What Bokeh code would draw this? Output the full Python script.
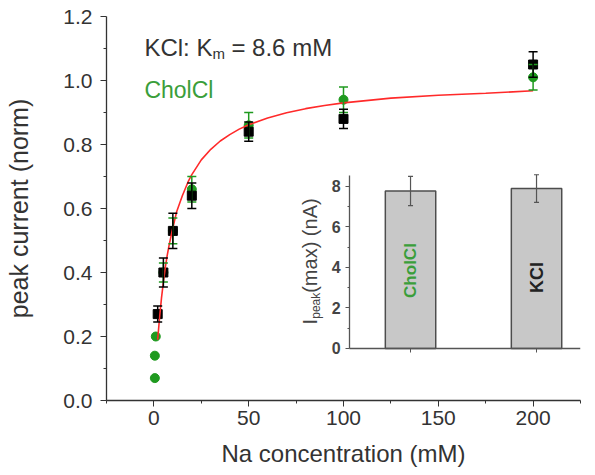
import math
from bokeh.plotting import figure
from bokeh.models import (ColumnDataSource, Whisker, TeeHead, FixedTicker, Label,
                          Range1d, LinearAxis)
from bokeh.embed import file_html
from bokeh.resources import INLINE

# ---------------- data ----------------
kcl_x = [2, 5, 10, 20, 50, 100, 200]
kcl_y = [0.27, 0.40, 0.53, 0.64, 0.84, 0.88, 1.05]
kcl_err = [0.025, 0.045, 0.055, 0.04, 0.03, 0.03, 0.04]

chol_x = [0.5, 0.5, 1, 5, 10, 20, 50, 100, 200]
chol_y = [0.07, 0.14, 0.20, 0.40, 0.53, 0.66, 0.86, 0.94, 1.01]
chol_err = [0, 0, 0, 0.03, 0.04, 0.04, 0.04, 0.04, 0.04]

fit_x = [2, 3, 4, 5, 6, 7, 8, 10, 12, 15, 18, 20, 25, 30, 35, 40, 45, 50, 60, 70,
         80, 90, 100, 125, 150, 175, 200]
fit_y = [0.19, 0.26, 0.32, 0.37, 0.415, 0.453, 0.485, 0.54, 0.59, 0.64, 0.683, 0.706,
         0.752, 0.785, 0.811, 0.831, 0.848, 0.862, 0.883, 0.899, 0.912, 0.922, 0.93,
         0.945, 0.954, 0.96, 0.968]

x_ticks = [0, 50, 100, 150, 200]
x_minor = [-25, 25, 75, 125, 175, 225]
y_ticks = [0.0, 0.2, 0.4, 0.6, 0.8, 1.0, 1.2]
y_tick_labels = ["0.0", "0.2", "0.4", "0.6", "0.8", "1.0", "1.2"]
y_minor = [0.1, 0.3, 0.5, 0.7, 0.9, 1.1]

inset_cats = ["CholCl", "KCl"]
inset_vals = [7.78, 7.9]
inset_err = [0.72, 0.68]
inset_y_ticks = [0, 2, 4, 6, 8]
inset_y_minor = [1, 3, 5, 7]

FONT = "Liberation Sans"
GREEN_M = "#1f9a1f"
GREEN_T = "#3a9e3a"
DARK = "#333333"
IGRAY = "#555555"

# ---------------- main plot ----------------
p = figure(width=592, height=474, x_range=Range1d(-25, 225), y_range=Range1d(0, 1.2),
           output_backend="svg", toolbar_location=None,
           min_border_left=106, min_border_right=12, min_border_top=16, min_border_bottom=74,
           outline_line_color=None, background_fill_color="white", border_fill_color="white")
p.grid.visible = False

p.xaxis.ticker = FixedTicker(ticks=x_ticks, minor_ticks=x_minor)
p.yaxis.ticker = FixedTicker(ticks=y_ticks, minor_ticks=y_minor)
p.yaxis.major_label_overrides = {t: l for t, l in zip(y_ticks, y_tick_labels)}
p.xaxis.axis_label = "Na concentration (mM)"
p.yaxis.axis_label = "peak current (norm)"
for ax in (p.xaxis[0], p.yaxis[0]):
    ax.axis_line_color = DARK
    ax.axis_line_width = 1.3
    ax.major_tick_line_color = DARK
    ax.minor_tick_line_color = DARK
    ax.major_tick_out = 6
    ax.major_tick_in = 0
    ax.minor_tick_out = 3
    ax.minor_tick_in = 0
    ax.major_label_text_font = FONT
    ax.major_label_text_font_size = "21px"
    ax.major_label_text_color = DARK
    ax.axis_label_text_font = FONT
    ax.axis_label_text_font_style = "normal"
    ax.axis_label_text_color = DARK
p.xaxis.major_label_standoff = 4
p.xaxis.axis_label_standoff = 12
p.xaxis.axis_label_text_font_size = "24px"
p.yaxis.major_label_standoff = 8
p.yaxis.axis_label_standoff = 27
p.yaxis.axis_label_text_font_size = "25px"

# error bars
ksrc = ColumnDataSource(dict(x=kcl_x, lo=[y - e for y, e in zip(kcl_y, kcl_err)],
                             hi=[y + e for y, e in zip(kcl_y, kcl_err)]))
cx = [x for x, e in zip(chol_x, chol_err) if e > 0]
cy = [y for y, e in zip(chol_y, chol_err) if e > 0]
ce = [e for e in chol_err if e > 0]
csrc = ColumnDataSource(dict(x=cx, lo=[y - e for y, e in zip(cy, ce)],
                             hi=[y + e for y, e in zip(cy, ce)]))
p.add_layout(Whisker(source=csrc, base="x", lower="lo", upper="hi", dimension="height",
                     line_color=GREEN_M, line_width=1.5, level="glyph",
                     upper_head=TeeHead(size=9, line_color=GREEN_M, line_width=1.5),
                     lower_head=TeeHead(size=9, line_color=GREEN_M, line_width=1.5)))
p.add_layout(Whisker(source=ksrc, base="x", lower="lo", upper="hi", dimension="height",
                     line_color="black", line_width=1.5, level="glyph",
                     upper_head=TeeHead(size=9, line_color="black", line_width=1.5),
                     lower_head=TeeHead(size=9, line_color="black", line_width=1.5)))

p.scatter(chol_x, chol_y, marker="circle", size=9, fill_color=GREEN_M, line_color=GREEN_M)
p.scatter(kcl_x, kcl_y, marker="square", size=9, fill_color="black", line_color="black")
p.line(fit_x, fit_y, line_color="#ff2a2a", line_width=1.6)

# annotations
KY = 1.103
p.add_layout(Label(x=-5, y=KY, text="KCl: K", text_font=FONT, text_font_size="24px",
                   text_color=DARK, text_baseline="alphabetic", text_align="left"))
p.add_layout(Label(x=-5, y=KY - 0.019, x_offset=68, text="m", text_font=FONT,
                   text_font_size="15px", text_color=DARK, text_baseline="alphabetic",
                   text_align="left"))
p.add_layout(Label(x=-5, y=KY, x_offset=87, text="= 8.6 mM", text_font=FONT,
                   text_font_size="24px", text_color=DARK, text_baseline="alphabetic",
                   text_align="left"))
p.add_layout(Label(x=-5, y=0.969, text="CholCl", text_font=FONT, text_font_size="23px",
                   text_color=GREEN_T, text_baseline="alphabetic", text_align="left"))

# ---------------- inset (extra ranges on the same figure) ----------------
p.extra_x_ranges = {"ix": Range1d(-1.413, 2.349)}
p.extra_y_ranges = {"iy": Range1d(-2.568, 16.395)}
ix = list(range(1, len(inset_cats) + 1))
INSET_X0 = 0.516
INSET_YTOP = 8.55

iyax = LinearAxis(x_range_name="ix", y_range_name="iy", fixed_location=INSET_X0,
                  bounds=(0, INSET_YTOP),
                  ticker=FixedTicker(ticks=inset_y_ticks, minor_ticks=inset_y_minor))
ixax = LinearAxis(x_range_name="ix", y_range_name="iy", fixed_location=0,
                  bounds=(INSET_X0, 2.43),
                  ticker=FixedTicker(ticks=ix, minor_ticks=[]),
                  major_label_overrides={i: "" for i in ix})
for ax in (iyax, ixax):
    ax.axis_line_color = IGRAY
    ax.axis_line_width = 1.3
    ax.major_tick_line_color = IGRAY
    ax.minor_tick_line_color = IGRAY
    ax.major_tick_out = 4
    ax.major_tick_in = 0
    ax.minor_tick_out = 2
    ax.minor_tick_in = 0
    ax.major_label_text_font = FONT
    ax.major_label_text_font_size = "16px"
    ax.major_label_text_font_style = "bold"
    ax.major_label_text_color = "#444444"
iyax.major_label_standoff = 5
p.add_layout(iyax, "left")
p.add_layout(ixax, "below")

p.vbar(x=ix, top=inset_vals, width=0.4, fill_color="#c8c8c8", line_color="#4d4d4d",
       line_width=1.5, x_range_name="ix", y_range_name="iy")
isrc = ColumnDataSource(dict(x=ix, lo=[v - e for v, e in zip(inset_vals, inset_err)],
                             hi=[v + e for v, e in zip(inset_vals, inset_err)]))
p.add_layout(Whisker(source=isrc, base="x", lower="lo", upper="hi", dimension="height",
                     x_range_name="ix", y_range_name="iy",
                     line_color=IGRAY, line_width=1.2, level="glyph",
                     upper_head=TeeHead(size=5, line_color=IGRAY, line_width=1.2),
                     lower_head=TeeHead(size=5, line_color=IGRAY, line_width=1.2)))

p.add_layout(Label(x=ix[0], y=3.85, text=inset_cats[0], angle=math.pi / 2,
                   x_range_name="ix", y_range_name="iy",
                   text_font=FONT, text_font_size="17px", text_font_style="bold",
                   text_color=GREEN_T, text_align="center", text_baseline="middle"))
p.add_layout(Label(x=ix[1], y=3.5, text=inset_cats[1], angle=math.pi / 2,
                   x_range_name="ix", y_range_name="iy",
                   text_font=FONT, text_font_size="18px", text_font_style="bold",
                   text_color="#222222", text_align="center", text_baseline="middle"))

# inset y label: I_peak(max) (nA)
lx = 0.206
ly = 1.19
for dx, dy, txt, fs in [(0, 0, "I", "20px"), (0.04, 0.277, "peak", "12px"),
                        (0, 1.56, "(max) (nA)", "20px")]:
    p.add_layout(Label(x=lx + dx, y=ly + dy, text=txt, angle=math.pi / 2,
                       x_range_name="ix", y_range_name="iy",
                       text_font=FONT, text_font_size=fs, text_color="#444444",
                       text_align="left", text_baseline="alphabetic"))

open("out.html", "w").write(file_html(p, INLINE))
